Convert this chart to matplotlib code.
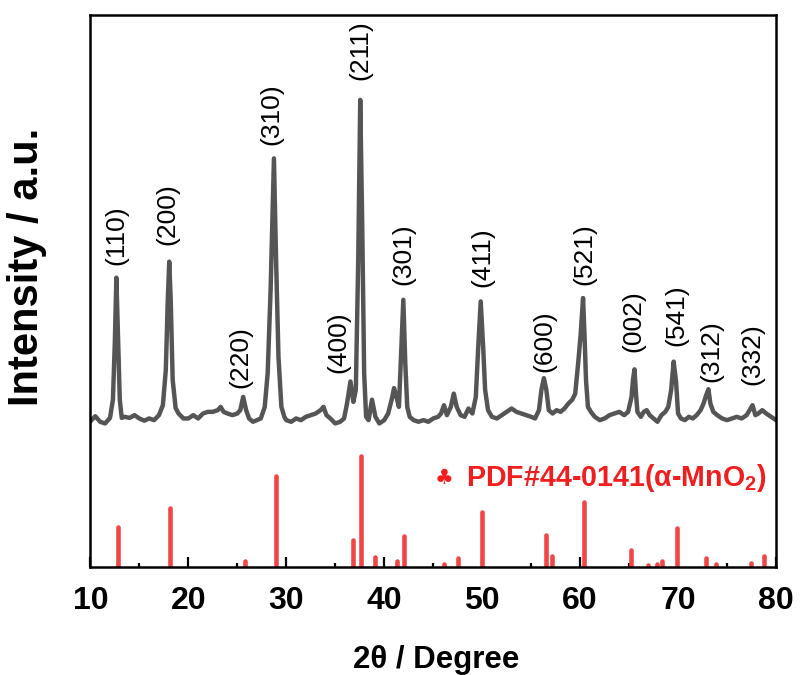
import matplotlib
matplotlib.use('Agg')
import matplotlib.pyplot as plt
from matplotlib.ticker import MultipleLocator

# XRD pattern (2theta, intensity in a.u.)
two_theta = [10.0, 10.5, 11.0, 11.5, 12.0, 12.3, 12.5, 12.65, 12.8, 13.0, 13.2, 13.5, 14.0, 14.5,
             15.0, 15.5, 16.0, 16.5, 17.0, 17.4, 17.7, 17.9, 18.05, 18.2, 18.4, 18.7, 19.0, 19.5,
             20.0, 20.5, 21.0, 21.5, 22.0, 22.5, 23.0, 23.3, 23.6, 24.0, 24.5, 25.0, 25.3, 25.6,
             25.9, 26.2, 26.6, 27.0, 27.4, 27.8, 28.1, 28.4, 28.74, 28.95, 29.2, 29.5, 29.8,
             30.0, 30.5, 31.0, 31.5, 32.0, 32.5, 33.0, 33.5, 33.8, 34.1, 34.5, 35.0, 35.5, 35.9,
             36.2, 36.55, 36.85, 37.1, 37.35, 37.55, 37.75, 37.95, 38.15, 38.4, 38.75, 39.1, 39.5,
             40.0, 40.4, 40.8, 41.0, 41.25, 41.5, 41.75, 41.95, 42.15, 42.35, 42.6, 43.0, 43.5,
             44.0, 44.5, 45.0, 45.5, 45.8, 46.1, 46.4, 46.8, 47.1, 47.4, 47.8, 48.2, 48.6, 49.0,
             49.35, 49.6, 49.85, 50.1, 50.3, 50.6, 51.0, 51.5, 52.0, 52.5, 53.0, 53.5, 54.0, 54.5,
             55.0, 55.4, 55.8, 56.05, 56.3, 56.55, 56.8, 57.2, 57.6, 58.0, 58.4, 58.8, 59.2, 59.5,
             59.8, 60.05, 60.3, 60.45, 60.6, 60.8, 61.1, 61.5, 62.0, 62.5, 63.0, 63.5, 64.0, 64.5,
             64.9, 65.25, 65.4, 65.55, 65.7, 65.85, 66.2, 66.5, 66.8, 67.1, 67.5, 67.9, 68.3, 68.7,
             69.0, 69.3, 69.55, 69.8, 70.0, 70.3, 70.7, 71.1, 71.5, 71.9, 72.3, 72.6, 72.85, 73.1,
             73.3, 73.6, 74.0, 74.5, 75.0, 75.5, 76.0, 76.5, 77.0, 77.3, 77.6, 77.9, 78.2, 78.6,
             79.0, 79.5, 80.0]
intensity = [26.4, 27.3, 26.3, 26.0, 27.0, 30.3, 41.0, 52.4, 43.0, 30.3, 27.0, 27.2, 27.0, 27.5,
             26.9, 26.5, 26.9, 26.6, 27.5, 29.3, 35.7, 48.4, 55.3, 48.4, 33.9, 28.8, 27.8, 26.9,
             26.9, 27.5, 26.9, 27.8, 28.1, 28.1, 28.4, 29.0, 28.1, 27.8, 27.5, 27.8, 28.4, 30.8,
             28.4, 26.9, 26.3, 26.6, 26.9, 29.0, 35.1, 50.2, 74.0, 56.2, 38.1, 29.0, 27.2,
             26.6, 26.3, 26.9, 26.6, 27.2, 27.5, 27.8, 28.4, 29.0, 27.5, 26.9, 26.0, 26.3, 26.9,
             29.6, 33.6, 29.9, 32.1, 56.2, 84.6, 62.3, 35.1, 27.2, 26.6, 30.3, 27.2, 26.0,
             26.6, 27.8, 30.6, 32.4, 30.8, 29.0, 39.9, 48.4, 36.9, 29.0, 27.2, 26.6, 26.3,
             26.6, 26.3, 26.9, 27.2, 27.8, 29.3, 27.5, 29.0, 31.4, 29.0, 27.5, 27.2, 28.7, 27.8,
             30.8, 39.9, 48.1, 39.9, 32.1, 28.4, 27.2, 26.9, 27.5, 28.1, 28.7, 28.1, 27.8, 27.5,
             27.2, 26.9, 28.4, 32.1, 34.2, 32.1, 28.4, 27.8, 28.4, 28.1, 28.7, 29.6, 30.3, 31.4,
             36.9, 42.0, 48.7, 42.0, 33.9, 29.0, 28.1, 27.2, 26.6, 26.9, 27.5, 27.8, 28.1, 27.5,
             28.1, 30.8, 33.9, 35.8, 31.5, 28.1, 27.2, 28.1, 28.4, 27.5, 26.9, 26.3, 27.5, 28.1,
             29.0, 32.1, 37.2, 33.5, 27.8, 26.9, 26.6, 27.2, 26.9, 27.5, 28.4, 29.6, 31.0, 32.2,
             29.6, 28.1, 27.5, 26.9, 26.6, 26.9, 27.2, 26.9, 27.5, 28.4, 29.3, 27.5, 27.8, 28.4,
             27.8, 27.2, 26.6]

# Reference card PDF#44-0141 sticks
ref_pos = [12.78, 18.1, 25.75, 28.9, 36.8, 37.6, 39.1, 41.3, 42.0, 46.1, 47.5, 49.96, 56.5,
           57.1, 60.4, 65.2, 66.9, 67.8, 68.4, 69.9, 72.9, 73.9, 77.4, 78.8]
ref_int = [7.3, 10.7, 1.0, 16.4, 4.9, 20.1, 1.9, 1.0, 5.6, 0.5, 1.7, 10.0, 5.8,
           2.0, 11.7, 3.0, 0.4, 0.5, 1.0, 7.0, 1.7, 0.6, 0.8, 2.0]

# Miller index labels
hkl_labels = ['(110)', '(200)', '(220)', '(310)', '(400)', '(211)', '(301)', '(411)',
              '(600)', '(521)', '(002)', '(541)', '(312)', '(332)']
hkl_x = [12.7, 17.9, 25.3, 28.5, 35.3, 37.6, 42.0, 50.0, 56.3, 60.4, 65.4, 69.8, 73.4, 77.6]
hkl_y = [54.7, 58.3, 32.4, 76.4, 35.1, 88.2, 51.1, 50.7, 35.3, 51.1, 38.9, 40.0, 33.5, 33.0]

ref_label = 'PDF#44-0141(α-MnO$_2$)'

plt.rcParams['font.family'] = ['Liberation Sans', 'DejaVu Sans']
plt.rcParams['mathtext.fontset'] = 'custom'
plt.rcParams['mathtext.rm'] = 'Liberation Sans:bold'
plt.rcParams['mathtext.it'] = 'Liberation Sans:italic:bold'
plt.rcParams['mathtext.bf'] = 'Liberation Sans:bold'
plt.rcParams['mathtext.default'] = 'rm'

fig = plt.figure(figsize=(8, 6.75), dpi=100)
ax = fig.add_axes([0.113, 0.16, 0.857, 0.818])

ax.plot(two_theta, intensity, color='#555555', lw=3.2, solid_joinstyle='round')
lc = ax.vlines(ref_pos, 0, ref_int, colors='#f24545', lw=3.3)
lc.set_capstyle('round')

for lab, x, y in zip(hkl_labels, hkl_x, hkl_y):
    ax.text(x, y, lab, rotation=90, ha='center', va='bottom', fontsize=19, color='black')

ax.text(46.1, 16.1, '♣', color='#f01e1e', fontsize=15, ha='center', va='center',
        family=['DejaVu Sans'])
ax.text(48.3, 16.1, ref_label, color='#f01e1e', fontsize=20.6, fontweight='bold',
        ha='left', va='center')

ax.set_xlim(10, 80)
ax.set_ylim(0, 100)
ax.set_yticks([])
ax.xaxis.set_major_locator(MultipleLocator(10))
ax.xaxis.set_minor_locator(MultipleLocator(5))
ax.tick_params(axis='x', which='major', direction='in', length=7, width=1.6,
               labelsize=23, pad=14)
ax.tick_params(axis='x', which='minor', direction='in', length=3, width=1.6)
for lbl in ax.get_xticklabels():
    lbl.set_fontweight('bold')
for sp in ax.spines.values():
    sp.set_linewidth(1.8)

ax.set_xlabel('2θ / Degree', fontsize=22.5, fontweight='bold')
ax.set_ylabel('Intensity / a.u.', fontsize=30, fontweight='bold')
ax.xaxis.set_label_coords(0.505, -0.141)
ax.yaxis.set_label_coords(-0.063, 0.543)

fig.savefig('out.png', dpi=100)
